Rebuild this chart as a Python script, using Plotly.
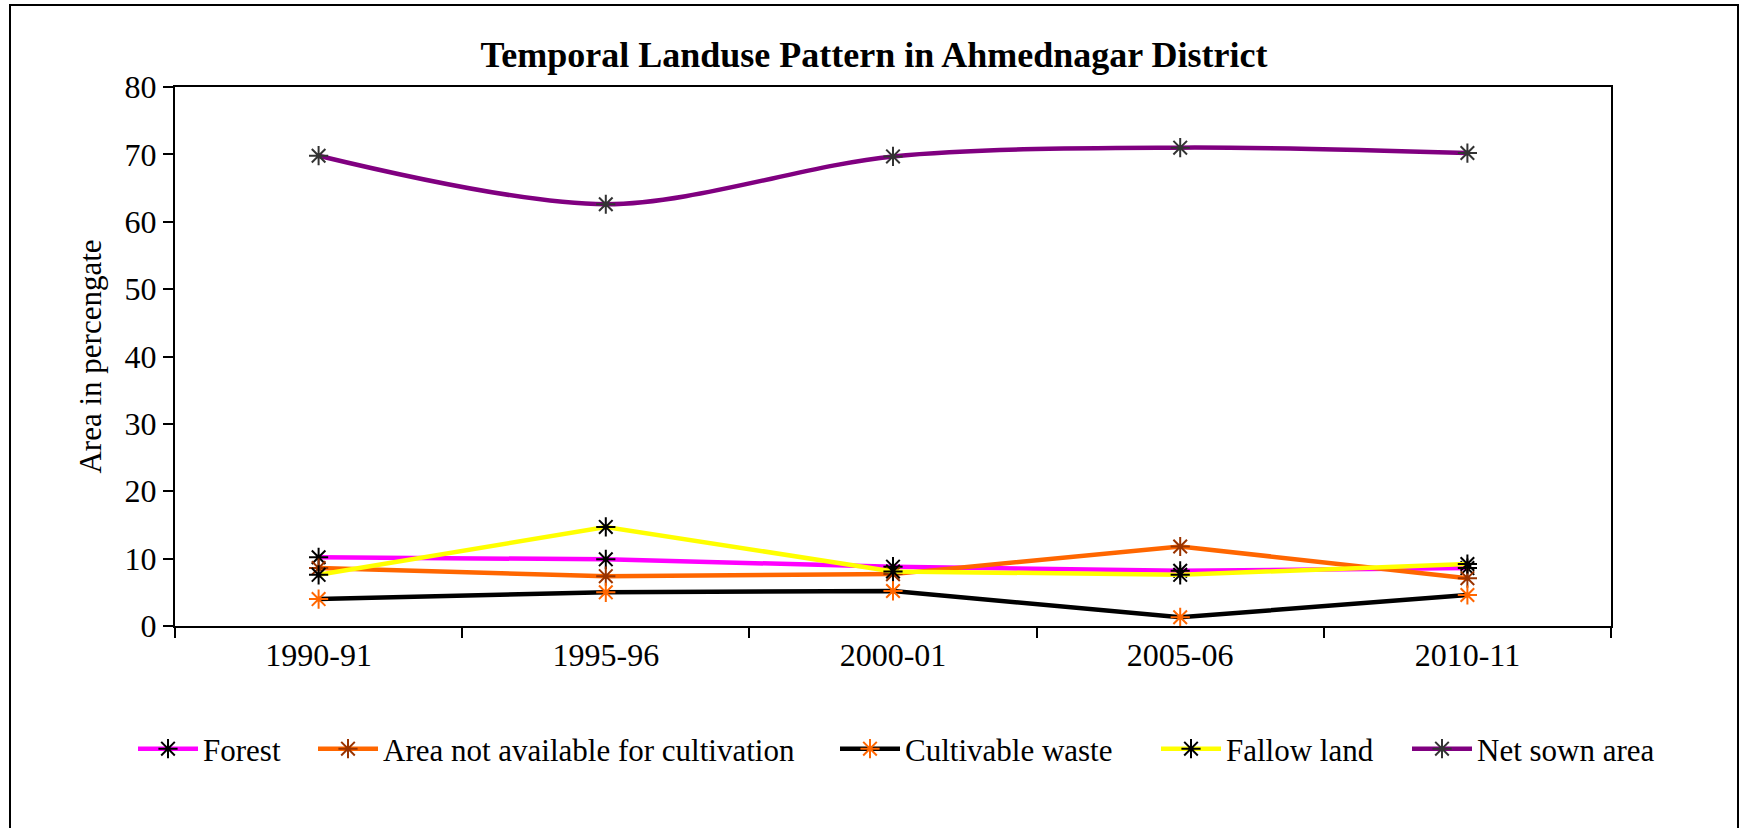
import plotly.graph_objects as go

years = ["1990-91", "1995-96", "2000-01", "2005-06", "2010-11"]
forest = [10.2, 9.9, 8.8, 8.2, 8.6]
area_not_available = [8.6, 7.4, 7.7, 11.8, 7.1]
cultivable_waste = [4.0, 5.0, 5.2, 1.3, 4.6]
fallow_land = [7.6, 14.7, 8.1, 7.6, 9.2]
net_sown_area = [69.8, 62.6, 69.7, 71.0, 70.2]

FONT = "Liberation Serif, Times New Roman, serif"

series = [
    ("Forest", forest, "#FF00FF", "#000000", "linear", 139),
    ("Area not available for cultivation", area_not_available, "#FF6600", "#993300", "linear", 319),
    ("Cultivable waste", cultivable_waste, "#000000", "#FF6600", "linear", 841),
    ("Fallow land", fallow_land, "#FFFF00", "#000000", "linear", 1162),
    ("Net sown area", net_sown_area, "#800080", "#333333", "spline", 1413),
]

W, H = 1741, 828
L, R, T, B = 175, 1611, 87, 626
pw, ph = R - L, B - T

fig = go.Figure()
legends = {}
for i, (name, vals, lc, mc, shape, lx) in enumerate(series):
    key = "legend" if i == 0 else f"legend{i + 1}"
    fig.add_trace(go.Scatter(
        x=years, y=vals, name=name, mode="lines+markers",
        line=dict(color=lc, width=4.5, shape=shape, smoothing=0.9),
        marker=dict(symbol="asterisk-open", size=16, line=dict(color=mc, width=2), color=mc),
        legend=key,
    ))
    legends[key] = dict(orientation="h", x=(lx - 6 - L) / pw, xanchor="left",
                        y=(B - 749) / ph, yanchor="middle",
                        font=dict(family=FONT, size=31, color="black"), itemwidth=60,
                        bgcolor="rgba(0,0,0,0)")

fig.update_layout(
    width=W, height=H,
    margin=dict(l=L, r=W - R, t=T, b=H - B),
    paper_bgcolor="white", plot_bgcolor="white",
    font=dict(family=FONT, color="black", size=31),
    title=dict(text="<b>Temporal Landuse Pattern in Ahmednagar District</b>",
               x=874 / W, xanchor="center", y=1 - 54 / H, yanchor="middle",
               font=dict(family=FONT, size=36, color="black")),
    showlegend=True,
    shapes=[dict(type="rect", xref="paper", yref="paper",
                 x0=(10 - L) / pw, x1=(1738 - L) / pw,
                 y0=(B - 840) / ph, y1=(B - 5) / ph,
                 line=dict(color="black", width=2), fillcolor="rgba(0,0,0,0)", layer="below")],
    **legends,
)

fig.update_xaxes(
    type="category", range=[-0.5, 4.5], tickson="boundaries",
    showline=True, linecolor="black", linewidth=2, mirror=True,
    ticks="outside", ticklen=10, tickwidth=2, tickcolor="black",
    showgrid=False, zeroline=False,
    tickfont=dict(family=FONT, size=32, color="black"),
)
fig.update_yaxes(
    range=[0, 80], dtick=10, tick0=0,
    showline=True, linecolor="black", linewidth=2, mirror=True,
    ticks="outside", ticklen=10, tickwidth=2, tickcolor="black",
    showgrid=False, zeroline=False,
    tickfont=dict(family=FONT, size=32, color="black"),
    title=dict(text="Area in percengate", standoff=14, font=dict(family=FONT, size=31, color="black")),
)

fig.write_html("out.html", config={"displayModeBar": False},
               post_script="document.body.style.margin='0';")
